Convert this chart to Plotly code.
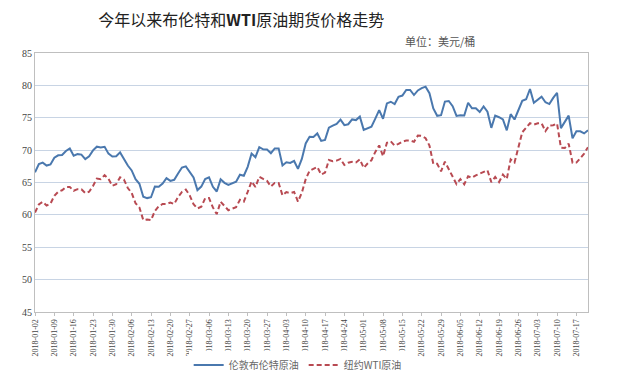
import pandas as pd
import plotly.graph_objects as go

dates = [d.strftime("%Y-%m-%d") for d in pd.bdate_range("2018-01-02", "2018-07-20")]

brent = [
    66.57, 67.84, 68.07, 67.62,
    67.78, 68.82, 69.20, 69.26, 69.87,
    70.26, 69.15, 69.38, 69.31, 68.61,
    69.03, 69.96, 70.53, 70.42, 70.52,
    69.46, 69.02, 69.05, 69.65, 68.58,
    67.62, 66.86, 65.51, 64.81, 62.79,
    62.59, 62.72, 64.36, 64.33, 64.84,
    65.67, 65.25, 65.42, 66.39, 67.31,
    67.50, 66.63, 65.78, 63.83, 64.37,
    65.54, 65.79, 64.34, 63.61, 65.49,
    64.95, 64.64, 64.89, 65.12, 66.21,
    66.05, 67.42, 69.47, 68.91, 70.45,
    70.12, 70.11, 69.53, 70.27, 70.27,
    67.64, 68.12, 68.02, 68.33, 67.11,
    68.65, 71.04, 72.06, 72.02, 72.58,
    71.42, 71.58, 73.48, 73.78, 74.06,
    74.71, 73.86, 74.00, 74.74, 74.64,
    75.17, 73.13, 73.36, 73.62, 74.87,
    76.17, 74.85, 77.21, 77.47, 77.12,
    78.23, 78.43, 79.28, 79.30, 78.51,
    79.22, 79.57, 79.80, 78.79, 76.44,
    75.30, 75.39, 77.50, 77.59, 76.79,
    75.29, 75.38, 75.36, 77.32, 76.46,
    76.46, 75.88, 76.74, 75.94, 73.44,
    75.34, 75.08, 74.74, 73.05, 75.55,
    74.73, 76.31, 77.62, 77.85, 79.44,
    77.30, 77.76, 78.24, 77.39, 77.11,
    78.07, 78.86, 73.40, 74.45, 75.33,
    71.84, 72.90, 72.90, 72.58, 73.07,
]

wti = [
    60.37, 61.63, 62.01, 61.44,
    61.73, 62.96, 63.57, 63.80, 64.30,
    64.30, 63.73, 63.97, 63.95, 63.37,
    63.57, 64.47, 65.61, 65.51, 66.14,
    65.56, 64.50, 64.73, 65.80, 65.45,
    64.15, 63.39, 61.79, 61.15, 59.20,
    59.29, 59.19, 60.60, 61.34, 61.68,
    61.68, 61.90, 61.68, 62.77, 63.55,
    63.91, 63.01, 61.64, 60.99, 61.25,
    62.57, 62.60, 61.15, 60.12, 62.04,
    61.36, 60.71, 60.96, 61.19, 62.34,
    62.06, 63.54, 65.17, 64.30, 65.88,
    65.55, 65.25, 64.38, 64.94, 64.94,
    63.01, 63.51, 63.37, 63.54, 62.06,
    63.42, 65.51, 66.82, 67.07, 67.39,
    66.22, 66.52, 68.47, 68.29, 68.38,
    68.64, 67.70, 68.05, 68.19, 68.10,
    68.57, 67.25, 67.93, 68.43, 69.72,
    70.73, 69.06, 71.14, 71.36, 70.70,
    70.96, 71.31, 71.49, 71.49, 71.28,
    72.24, 72.20, 71.84, 70.71, 67.88,
    67.88, 66.73, 68.21, 67.04, 65.81,
    64.75, 65.52, 64.73, 65.95, 65.74,
    66.10, 66.36, 66.64, 66.89, 65.06,
    65.85, 65.07, 66.22, 65.54, 68.58,
    68.08, 70.53, 72.76, 73.45, 74.15,
    73.94, 74.14, 74.14, 72.94, 73.80,
    73.85, 74.11, 70.38, 70.33, 71.01,
    68.06, 68.08, 68.76, 69.46, 70.46,
]

tick_labels = dates[::5]
y_ticks = [45, 50, 55, 60, 65, 70, 75, 80, 85]

fig = go.Figure()
fig.add_trace(go.Scatter(x=dates, y=brent, mode="lines", name="伦敦布伦特原油",
                         line=dict(color="#4A78AE", width=2)))
fig.add_trace(go.Scatter(x=dates, y=wti, mode="lines", name="纽约WTI原油",
                         line=dict(color="#B84A52", width=2, dash="5px,3px")))

fig.update_layout(
    width=617, height=385,
    margin=dict(l=27, r=37, t=45, b=81, autoexpand=False),
    paper_bgcolor="white", plot_bgcolor="white",
    font=dict(family="Noto Sans CJK SC", color="#333"),
    title=dict(text="今年以来布伦特和<b>WTI</b>原油期货价格走势",
               x=0.378, y=0.969, xanchor="center", yanchor="middle",
               font=dict(family="Noto Sans CJK SC", size=16, color="#222")),
    showlegend=True,
    legend=dict(orientation="h", x=0.475, y=-0.205, xanchor="center", yanchor="middle",
                font=dict(family="Noto Sans CJK SC", size=10, color="#666"),
                itemwidth=30),
    annotations=[dict(text="单位：美元/桶", xref="paper", yref="paper",
                      x=0.799, y=1.045, xanchor="right", yanchor="middle",
                      showarrow=False,
                      font=dict(family="Noto Sans CJK SC", size=11, color="#555"))],
)

fig.update_xaxes(type="category", range=[0, len(dates) - 1], automargin=False,
                 tickmode="array", tickvals=tick_labels, ticktext=tick_labels,
                 tickangle=-90, ticks="outside", ticklen=3, tickcolor="#bfbfbf",
                 tickfont=dict(family="Liberation Serif", size=8, color="#444"),
                 showgrid=False, showline=True, linecolor="#bfbfbf", mirror=True)
fig.update_yaxes(range=[45, 85], tickvals=y_ticks, automargin=False,
                 tickfont=dict(family="Liberation Serif", size=10, color="#444"),
                 showgrid=True, gridcolor="#c8d4e4", gridwidth=1,
                 showline=True, linecolor="#bfbfbf", mirror=True, zeroline=False)

fig.write_html("out.html")
